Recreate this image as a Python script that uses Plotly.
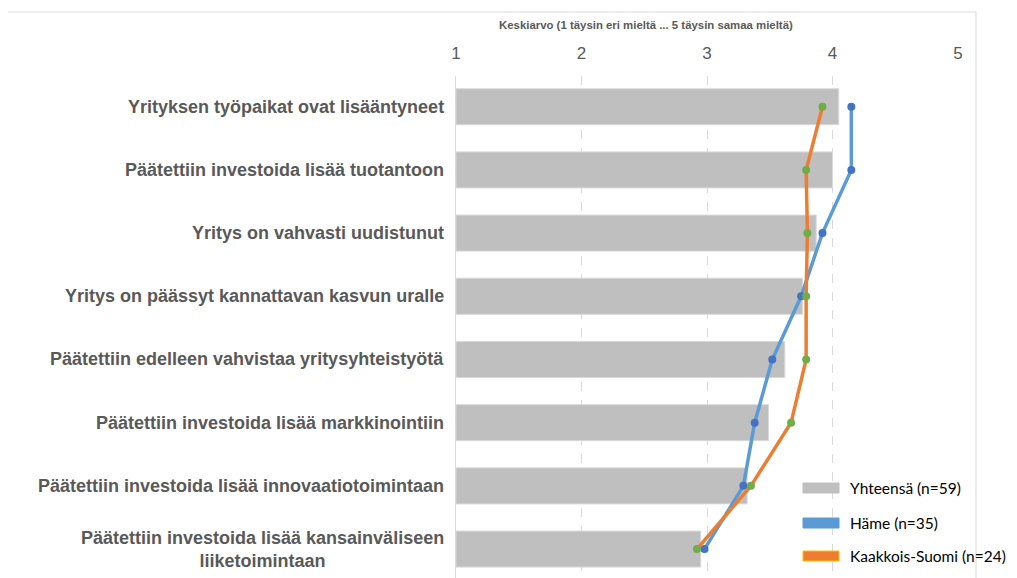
import plotly.graph_objects as go

categories = [
    "Yrityksen työpaikat ovat lisääntyneet",
    "Päätettiin investoida lisää tuotantoon",
    "Yritys on vahvasti uudistunut",
    "Yritys on päässyt kannattavan kasvun uralle",
    "Päätettiin edelleen vahvistaa yritysyhteistyötä",
    "Päätettiin investoida lisää markkinointiin",
    "Päätettiin investoida lisää innovaatiotoimintaan",
    "Päätettiin investoida lisää kansainväliseen liiketoimintaan",
]
labels = [
    "Yrityksen työpaikat ovat lisääntyneet",
    "Päätettiin investoida lisää tuotantoon",
    "Yritys on vahvasti uudistunut",
    "Yritys on päässyt kannattavan kasvun uralle",
    "Päätettiin edelleen vahvistaa yritysyhteistyötä",
    "Päätettiin investoida lisää markkinointiin",
    "Päätettiin investoida lisää innovaatiotoimintaan",
    "Päätettiin investoida lisää kansainväliseen<br>liiketoimintaan",
]
yhteensa = [4.05, 4.00, 3.87, 3.76, 3.62, 3.49, 3.32, 2.95]
hame = [4.15, 4.15, 3.92, 3.75, 3.52, 3.38, 3.29, 2.98]
kaakkois = [3.92, 3.79, 3.80, 3.79, 3.79, 3.67, 3.35, 2.92]
x_ticks = [1, 2, 3, 4, 5]
legend_names = ["Yhteensä (n=59)", "Häme (n=35)", "Kaakkois-Suomi (n=24)"]
axis_title = "Keskiarvo (1 täysin eri mieltä ... 5 täysin samaa mieltä)"

GRAY = "#BFBFBF"
BLUE = "#5B9BD5"
BLUE_M = "#4472C4"
ORANGE = "#ED7D31"
GREEN = "#70AD47"
TXT = "#595959"

fig = go.Figure()
fig.add_trace(go.Bar(
    y=categories, x=[v - 1 for v in yhteensa], base=1, orientation="h",
    marker=dict(color=GRAY, line=dict(color="#D9D9D9", width=1)),
    width=0.57, name=legend_names[0], showlegend=False,
))
fig.add_trace(go.Scatter(
    y=categories, x=hame, mode="lines+markers",
    line=dict(color=BLUE, width=3.5), marker=dict(color=BLUE_M, size=8),
    name=legend_names[1], showlegend=False,
))
fig.add_trace(go.Scatter(
    y=categories, x=kaakkois, mode="lines+markers",
    line=dict(color=ORANGE, width=3.5), marker=dict(color=GREEN, size=8),
    name=legend_names[2], showlegend=False,
))

# page body has an 8px margin; compensate so screen coordinates match
OFF = 8
W, H = 1017 - OFF, 578 - OFF
L, T, B = 456 - OFF, 76 - OFF, 0
R = W - (958 - OFF)
pw = W - L - R
ph = H - T - B

def px(xp):
    return (xp - OFF - L) / pw

def py(yp):
    return (H - B - (yp - OFF)) / ph

annotations = []
for cat, lab in zip(categories, labels):
    annotations.append(dict(
        x=0, xref="paper", xshift=-10, y=cat, yref="y",
        text=lab, showarrow=False, xanchor="right", yanchor="middle", align="center",
        font=dict(family="Liberation Sans, Arial", size=18, color=TXT, weight="bold"),
    ))
annotations.append(dict(
    x=px(646), y=py(25), xref="paper", yref="paper", text=axis_title,
    showarrow=False, xanchor="center", yanchor="middle",
    font=dict(family="Liberation Sans, Arial", size=11.4, color=TXT, weight="bold"),
))

shapes = [dict(
    type="rect", xref="paper", yref="paper",
    x0=px(7), x1=px(976), y0=py(600), y1=py(12),
    line=dict(color="#D9D9D9", width=1), fillcolor="rgba(0,0,0,0)", layer="below",
)]
leg_colors = [(GRAY, GRAY), (BLUE, BLUE), (ORANGE, "#FFC000")]
leg_y = [488, 523, 556]
for (fc, lc), yy, nm in zip(leg_colors, leg_y, legend_names):
    shapes.append(dict(
        type="rect", xref="paper", yref="paper",
        x0=px(803), x1=px(839), y0=py(yy + 5), y1=py(yy - 5),
        fillcolor=fc, line=dict(color=lc, width=1), layer="above",
    ))
    annotations.append(dict(
        x=px(848), y=py(yy), xref="paper", yref="paper", text=nm,
        showarrow=False, xanchor="left", yanchor="middle",
        font=dict(family="Lato, Carlito, Calibri", size=15.5, color="#000000"),
    ))

fig.update_layout(
    width=W, height=H,
    margin=dict(l=L, r=R, t=T, b=B, pad=0),
    paper_bgcolor="white", plot_bgcolor="white",
    showlegend=False,
    annotations=annotations, shapes=shapes,
    xaxis=dict(
        side="top", range=[1, 5], tickvals=x_ticks, ticks="",
        ticklabelstandoff=13,
        tickfont=dict(family="Liberation Sans, Arial", size=17, color=TXT),
        showgrid=True, gridcolor="#D9D9D9", griddash="dash", gridwidth=1,
        zeroline=False, showline=False,
    ),
    yaxis=dict(
        type="category", categoryorder="array", categoryarray=categories,
        range=[7.458, -0.486], showticklabels=False, ticks="",
        showgrid=False, zeroline=False,
        showline=True, linecolor="#D9D9D9", linewidth=1,
    ),
)

fig.write_html("out.html")
